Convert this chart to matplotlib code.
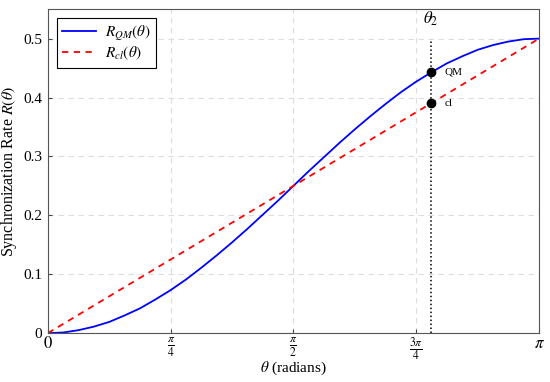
import numpy as np
import matplotlib
matplotlib.use('agg')
import matplotlib.pyplot as plt

plt.rcParams['font.family'] = ['Liberation Serif', 'DejaVu Serif']
plt.rcParams['mathtext.fontset'] = 'stix'

# values (theta in steps of pi/32)
theta = np.arange(33) * np.pi / 32
r_qm = [0.000, 0.001, 0.005, 0.011, 0.019, 0.030, 0.042, 0.057, 0.073,
        0.091, 0.111, 0.132, 0.154, 0.177, 0.201, 0.225, 0.250,
        0.275, 0.299, 0.323, 0.346, 0.368, 0.389, 0.409, 0.427,
        0.443, 0.458, 0.470, 0.481, 0.489, 0.495, 0.499, 0.500]
theta_cl = [0.0, np.pi]
r_cl = [0.0, 0.5]
theta2 = 2.45
qm_pt = 0.443
cl_pt = 0.390
xticks = [0, np.pi/4, np.pi/2, 3*np.pi/4, np.pi]
xticklabels = ['$0$', r'$\frac{\pi}{4}$', r'$\frac{\pi}{2}$', r'$\frac{3\pi}{4}$', r'$\pi$']
yticks = [0, 0.1, 0.2, 0.3, 0.4, 0.5]
yticklabels = ['0', '0.1', '0.2', '0.3', '0.4', '0.5']

fig = plt.figure(figsize=(5.5, 3.82), dpi=100)
ax = fig.add_axes([0.087, 0.128, 0.893, 0.848])

ax.plot(theta, r_qm, color='blue', lw=1.3, label=r'$R_{QM}(\theta)$')
ax.plot(theta_cl, r_cl, color='red', lw=1.3, ls=(0, (3.5, 3)), label=r'$R_{cl}(\theta)$')
ax.plot([theta2, theta2], [0, 0.5], color='black', lw=1.1, ls=(0, (1, 1.6)))
ax.plot([theta2, theta2], [qm_pt, cl_pt], 'o', color='black', ms=6)
ax.text(theta2 + 0.09, qm_pt, 'QM', fontsize=8, va='center')
ax.text(theta2 + 0.09, cl_pt, 'cl', fontsize=8, va='center')
ax.text(theta2, 0.533, r'$\theta_2$', fontsize=12, ha='center', va='center')

ax.set_xlim(0, np.pi)
ax.set_ylim(0, 0.55)
ax.set_xticks(xticks)
ax.set_xticklabels(xticklabels, fontsize=12)
ax.set_yticks(yticks)
ax.set_yticklabels(yticklabels, fontsize=11)
ax.tick_params(direction='in', length=3, color='#444444')
ax.tick_params(axis='x', pad=2)
ax.tick_params(axis='y', pad=4)
ax.grid(True, color='#dddddd', ls=(0, (5, 4)), lw=0.8)
for s in ax.spines.values():
    s.set_color('#555555')

ax.set_xlabel(r'$\theta$ (radians)', fontsize=11, va='center')
ax.xaxis.set_label_coords(0.5, -0.11)
ax.set_ylabel(r'Synchronization Rate $R(\theta)$', fontsize=11.5, va='center')
ax.yaxis.set_label_coords(-0.08, 0.5)

leg = ax.legend(loc='upper left', fontsize=11, fancybox=False, edgecolor='black',
                framealpha=1, borderaxespad=0.6, handlelength=2.2,
                labelspacing=0.15, borderpad=0.35, handletextpad=0.6)
leg.get_frame().set_linewidth(0.8)

fig.savefig('out.png', dpi=100)
